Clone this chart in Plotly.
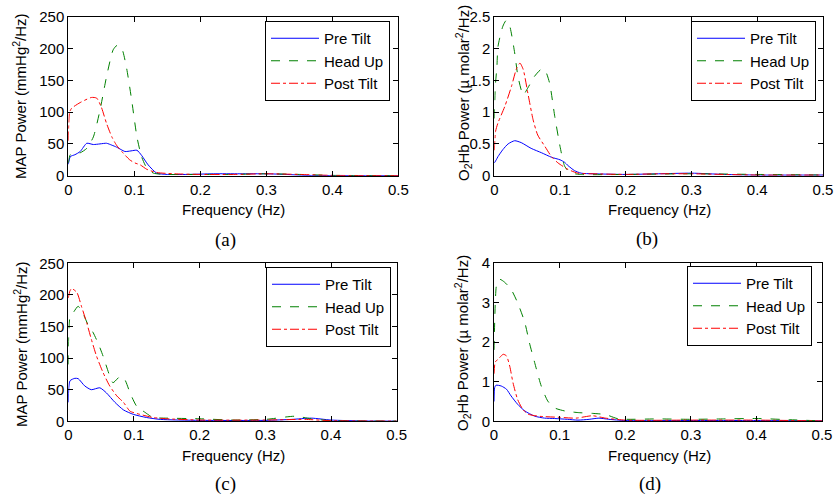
import plotly.graph_objects as go

# ---------------- data ----------------
# Panel (a): MAP power
fa_pre = [0, 0.003, 0.01, 0.018, 0.028, 0.038, 0.048, 0.058, 0.066, 0.073, 0.08, 0.086, 0.095, 0.104, 0.111, 0.121, 0.134, 0.15, 0.18, 0.22, 0.26, 0.3, 0.33, 0.36, 0.4, 0.45, 0.5]
a_pre = [18, 30, 33, 38, 51, 49, 50, 51, 48, 45, 41, 38, 39, 40, 32, 17, 4, 2, 2, 3, 3, 3, 2, 0.5, 0.3, 0.2, 0.2]
fa_hu = [0, 0.003, 0.01, 0.018, 0.028, 0.038, 0.048, 0.058, 0.068, 0.074, 0.081, 0.088, 0.096, 0.104, 0.111, 0.119, 0.129, 0.15, 0.2, 0.25, 0.3, 0.35, 0.4, 0.5]
a_hu = [20, 33, 35, 36, 43, 61, 103, 156, 198, 205, 200, 171, 119, 61, 30, 12, 4, 2, 2, 2, 3, 2, 0.5, 0.3]
fa_pt = [0, 0.002, 0.005, 0.018, 0.035, 0.043, 0.05, 0.058, 0.066, 0.073, 0.081, 0.093, 0.101, 0.109, 0.119, 0.134, 0.16, 0.2, 0.25, 0.3, 0.35, 0.4, 0.5]
a_pt = [55, 100, 106, 115, 123, 122, 108, 82, 61, 48, 38, 25, 20, 17, 10, 5, 3, 2, 2, 3, 2, 0.5, 0.3]

# Panel (b): O2Hb power
fb_pre = [0, 0.003, 0.0056, 0.013, 0.021, 0.031, 0.041, 0.056, 0.072, 0.087, 0.1, 0.107, 0.112, 0.122, 0.132, 0.15, 0.2, 0.25, 0.3, 0.35, 0.4, 0.5]
b_pre = [0.2, 0.25, 0.30, 0.41, 0.50, 0.55, 0.52, 0.43, 0.36, 0.29, 0.25, 0.21, 0.16, 0.08, 0.04, 0.03, 0.02, 0.03, 0.04, 0.02, 0.01, 0.01]
fb_hu = [0, 0.0015, 0.004, 0.0056, 0.013, 0.018, 0.023, 0.031, 0.036, 0.044, 0.051, 0.061, 0.071, 0.077, 0.084, 0.092, 0.1, 0.107, 0.115, 0.13, 0.2, 0.3, 0.4, 0.5]
b_hu = [0.9, 1.4, 1.72, 2.03, 2.35, 2.44, 2.37, 1.93, 1.56, 1.27, 1.38, 1.56, 1.67, 1.66, 1.46, 0.93, 0.46, 0.15, 0.05, 0.02, 0.02, 0.03, 0.02, 0.01]
fb_pt = [0, 0.002, 0.0056, 0.016, 0.026, 0.034, 0.039, 0.044, 0.051, 0.059, 0.066, 0.077, 0.087, 0.097, 0.112, 0.127, 0.15, 0.2, 0.25, 0.3, 0.4, 0.5]
b_pt = [0.4, 0.7, 0.83, 1.09, 1.40, 1.69, 1.77, 1.67, 1.30, 0.88, 0.64, 0.46, 0.30, 0.20, 0.10, 0.04, 0.03, 0.02, 0.03, 0.03, 0.01, 0.01]

# Panel (c): MAP power
fc_pre = [0, 0.0025, 0.01, 0.015, 0.025, 0.035, 0.048, 0.058, 0.071, 0.084, 0.099, 0.119, 0.14, 0.2, 0.3, 0.34, 0.37, 0.4, 0.45, 0.5]
c_pre = [30, 64, 68, 67.5, 56, 50, 53, 45, 30, 18, 11, 6, 3, 1.5, 1.5, 3, 5, 2, 0.5, 0.3]
fc_hu = [0, 0.0025, 0.0076, 0.015, 0.023, 0.03, 0.038, 0.046, 0.053, 0.063, 0.068, 0.079, 0.086, 0.094, 0.104, 0.117, 0.129, 0.15, 0.2, 0.25, 0.3, 0.345, 0.37, 0.4, 0.5]
c_hu = [90, 164, 172, 182, 169, 153, 140, 122, 103, 72, 61, 71, 66, 45, 24, 14, 6, 5, 4, 2, 3, 8, 4, 1, 0.3]
fc_pt = [0, 0.002, 0.005, 0.013, 0.02, 0.028, 0.035, 0.043, 0.053, 0.063, 0.074, 0.084, 0.094, 0.109, 0.129, 0.15, 0.2, 0.3, 0.36, 0.4, 0.5]
c_pt = [195, 205, 210, 204, 182, 156, 130, 103, 77, 56, 40, 30, 16, 11, 6, 4, 2, 2, 3, 1, 0.3]

# Panel (d): O2Hb power
fd_pre = [0, 0.001, 0.003, 0.011, 0.019, 0.026, 0.036, 0.047, 0.062, 0.077, 0.092, 0.112, 0.128, 0.145, 0.16, 0.175, 0.2, 0.3, 0.4, 0.5]
d_pre = [0.5, 0.85, 0.91, 0.89, 0.81, 0.64, 0.43, 0.26, 0.13, 0.08, 0.07, 0.05, 0.03, 0.05, 0.08, 0.05, 0.02, 0.02, 0.02, 0.01]
fd_hu = [0, 0.002, 0.004, 0.009, 0.016, 0.026, 0.036, 0.047, 0.054, 0.062, 0.072, 0.082, 0.092, 0.108, 0.128, 0.15, 0.17, 0.19, 0.25, 0.3, 0.35, 0.4, 0.45, 0.5]
d_hu = [1.8, 3.0, 3.45, 3.58, 3.51, 3.33, 2.99, 2.49, 1.98, 1.48, 0.89, 0.51, 0.34, 0.26, 0.22, 0.2, 0.17, 0.06, 0.06, 0.05, 0.06, 0.07, 0.04, 0.01]
fd_pt = [0, 0.002, 0.006, 0.014, 0.019, 0.024, 0.029, 0.036, 0.044, 0.052, 0.067, 0.1, 0.125, 0.15, 0.17, 0.2, 0.3, 0.4, 0.5]
d_pt = [1.2, 1.5, 1.56, 1.69, 1.65, 1.39, 0.97, 0.55, 0.30, 0.18, 0.13, 0.1, 0.08, 0.14, 0.08, 0.03, 0.03, 0.03, 0.01]

series_names = ["Pre Tilt", "Head Up", "Post Tilt"]
captions = ["(a)", "(b)", "(c)", "(d)"]
y_titles = ["MAP Power (mmHg<sup>2</sup>/Hz)",
            "O<sub>2</sub>Hb Power (\u00b5 molar<sup>2</sup>/Hz)",
            "MAP Power (mmHg<sup>2</sup>/Hz)",
            "O<sub>2</sub>Hb Power (\u00b5 molar<sup>2</sup>/Hz)"]
y_ranges = [[0, 250], [0, 2.5], [0, 250], [0, 4]]
y_dticks = [50, 0.5, 50, 1]

panels = [
    [(fa_pre, a_pre), (fa_hu, a_hu), (fa_pt, a_pt)],
    [(fb_pre, b_pre), (fb_hu, b_hu), (fb_pt, b_pt)],
    [(fc_pre, c_pre), (fc_hu, c_hu), (fc_pt, c_pt)],
    [(fd_pre, d_pre), (fd_hu, d_hu), (fd_pt, d_pt)],
]

# ---------------- layout geometry (pixels) ----------------
W, H = 834, 500
plot_boxes = [  # left, right, top, bottom in px
    (68.3, 398.3, 16.7, 175.7),
    (494.3, 823.0, 16.7, 175.7),
    (68.3, 396.7, 263.3, 421.3),
    (494.0, 822.0, 262.7, 421.3),
]
legend_pos = [(390, 21), (816, 21), (391, 267), (812, 266)]  # right, top
ytitle_pos = [(20, 96), (464, 93), (20, 344), (462, 343)]
xtitle_pos = [(233, 210), (659, 210), (233, 455), (659, 455)]
caption_pos = [(226, 240), (647, 239), (226, 484), (650, 484)]

colors = ["#0000ff", "#008000", "#ff0000"]
dashes = ["solid", "dash", "dashdot"]
FONT = "Liberation Sans, Arial, Helvetica, sans-serif"

fig = go.Figure()
layout = dict(
    width=W, height=H,
    margin=dict(l=0, r=0, t=0, b=0),
    paper_bgcolor="white", plot_bgcolor="white",
    font=dict(family=FONT, size=15, color="black"),
    annotations=[],
)

for i, panel in enumerate(panels):
    k = "" if i == 0 else str(i + 1)
    leg = "legend" + k
    for j, (fx, fy) in enumerate(panel):
        fig.add_trace(go.Scatter(
            x=fx, y=fy, mode="lines", name=series_names[j],
            line=dict(color=colors[j], dash=dashes[j], width=1, shape="spline", smoothing=0.6),
            xaxis="x" + k, yaxis="y" + k, legend=leg,
        ))
    l, r, t, b = plot_boxes[i]
    axcommon = dict(showline=True, linecolor="black", linewidth=1, mirror="allticks",
                    ticks="inside", ticklen=5, tickcolor="black", showgrid=False,
                    zeroline=False, tickfont=dict(size=15), automargin=False)
    layout["xaxis" + k] = dict(domain=[l / W, r / W], anchor="y" + k, range=[0, 0.5],
                               dtick=0.1, tick0=0, **axcommon)
    layout["yaxis" + k] = dict(domain=[1 - b / H, 1 - t / H], anchor="x" + k,
                               range=y_ranges[i], dtick=y_dticks[i], tick0=0, **axcommon)
    lx, ly = legend_pos[i]
    layout[leg] = dict(x=lx / W, y=1 - ly / H, xanchor="right", yanchor="top",
                       bordercolor="black", borderwidth=1, bgcolor="white",
                       font=dict(size=15), tracegroupgap=0, itemwidth=48)
    tx, ty = ytitle_pos[i]
    layout["annotations"].append(dict(text=y_titles[i], x=tx / W, y=1 - ty / H, xref="paper", yref="paper",
                                      xanchor="center", yanchor="middle",
                                      showarrow=False, textangle=-90, font=dict(size=15)))
    tx, ty = xtitle_pos[i]
    layout["annotations"].append(dict(text="Frequency (Hz)", x=tx / W, y=1 - ty / H, xref="paper", yref="paper",
                                      xanchor="center", yanchor="middle",
                                      showarrow=False, font=dict(size=15)))
    tx, ty = caption_pos[i]
    layout["annotations"].append(dict(text=captions[i], x=tx / W, y=1 - ty / H, xref="paper", yref="paper",
                                      xanchor="center", yanchor="middle",
                                      showarrow=False, font=dict(size=19, family="Liberation Serif, Times New Roman, serif")))

fig.update_layout(**layout)
fig.write_html("out.html", config={"displayModeBar": False},
               post_script="document.body.style.margin='0';document.body.style.overflow='hidden';")
